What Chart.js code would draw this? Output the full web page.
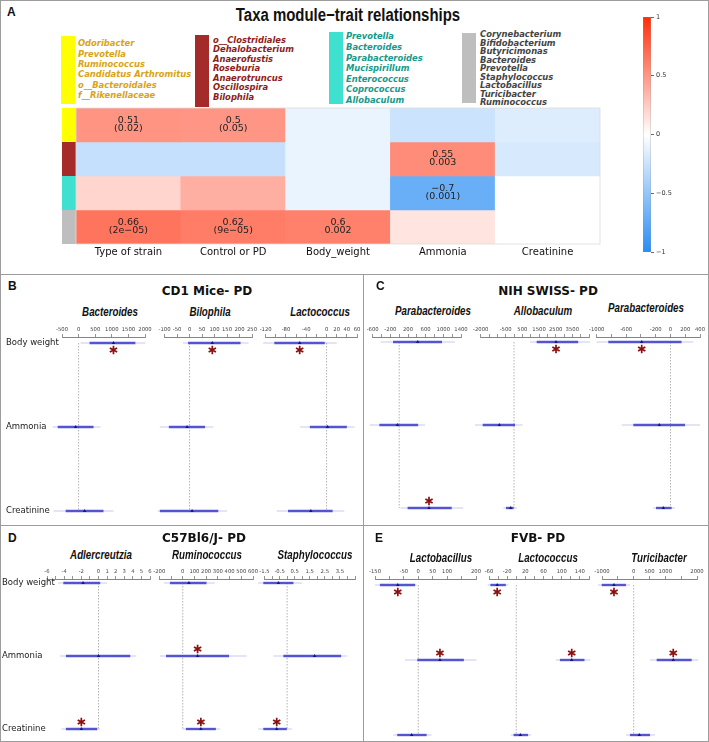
<!DOCTYPE html>
<html>
<head>
<meta charset="utf-8">
<script src="https://cdn.jsdelivr.net/npm/chart.js@4.4.1/dist/chart.umd.min.js"></script>
<style>
  body { margin: 0; background: #fff; }
  #fig { position: relative; width: 709px; height: 742px; overflow: hidden; font-family: "DejaVu Sans", sans-serif; color: #111; }
  .t { position: absolute; white-space: nowrap; line-height: 1; }
  .c { transform: translate(-50%, -50%); }
  .l { transform: translateY(-50%); }
  .n { transform: translate(-50%, -50%) scaleX(0.83); }
  .ns { transform: translate(-50%, -50%) scaleX(0.78); }
  .rule { position: absolute; background: #9c9c9c; }
  .box { position: absolute; }
  canvas { position: absolute; }
  .lab { font: bold 12px "Liberation Sans", Arial, sans-serif; }
  .ptitle { font: bold 12px "DejaVu Sans", sans-serif; }
  .sub { font: italic bold 12.5px "Liberation Sans", Arial, sans-serif; }
  .taxa { position: absolute; font: italic bold 8.4px "DejaVu Sans", sans-serif; white-space: nowrap; }
</style>
</head>
<body>
<div id="fig"></div>
<script>
// ---- panel A: module-trait heatmap ----
const traits = ['Type of strain', 'Control or PD', 'Body_weight', 'Ammonia', 'Creatinine'];
const modules = ['yellow', 'brown', 'turquoise', 'grey'];
const moduleColors = ['#FFFF00', '#A52A2A', '#40E0D0', '#BEBEBE'];
const corrYellow = [0.51, 0.5, -0.1, -0.24, -0.16];
const corrBrown = [-0.27, -0.27, -0.1, 0.55, -0.19];
const corrTurquoise = [0.2, 0.38, -0.1, -0.7, 0];
const corrGrey = [0.66, 0.62, 0.6, 0.13, 0];
const pYellow = ['(0.02)', '(0.05)', '', '', ''];
const pBrown = ['', '', '', '0.003', ''];
const pTurquoise = ['', '', '', '(0.001)', ''];
const pGrey = ['(2e\u221205)', '(9e\u221205)', '0.002', '', ''];
const colorbarTicks = [-1, -0.5, 0, 0.5, 1];

const taxaYellow = ['Odoribacter', 'Prevotella', 'Ruminococcus', 'Candidatus Arthromitus', 'o__Bacteroidales', 'f__Rikenellaceae'];
const taxaBrown = ['o__Clostridiales', 'Dehalobacterium', 'Anaerofustis', 'Roseburia', 'Anaerotruncus', 'Oscillospira', 'Bilophila'];
const taxaTurquoise = ['Prevotella', 'Bacteroides', 'Parabacteroides', 'Mucispirillum', 'Enterococcus', 'Coprococcus', 'Allobaculum'];
const taxaGrey = ['Corynebacterium', 'Bifidobacterium', 'Butyricimonas', 'Bacteroides', 'Prevotella', 'Staphylococcus', 'Lactobacillus', 'Turicibacter', 'Ruminococcus'];

// ---- panels B-E: forest plots ----
const rows = ['Body weight', 'Ammonia', 'Creatinine'];

// B  CD1 Mice- PD
const cd1Taxa = ['Bacteroides', 'Bilophila', 'Lactococcus'];
const cd1BactTicks = [-500, 0, 500, 1000, 1500, 2000];
const cd1BactEst = [1050, -90, 180];
const cd1BactLo = [330, -630, -390];
const cd1BactHi = [1710, 450, 750];
const cd1BactWideLo = [60, -780, -750];
const cd1BactWideHi = [2010, 660, 1050];
const cd1BactSig = [true, false, false];

const cd1BiloTicks = [-100, -50, 0, 50, 100, 150, 200, 250];
const cd1BiloEst = [91, -10, 10];
const cd1BiloLo = [-6, -83, -119];
const cd1BiloHi = [204, 62, 115];
const cd1BiloWideLo = [-26, -119, -127];
const cd1BiloWideHi = [236, 95, 150];
const cd1BiloSig = [true, false, false];

const cd1LactTicks = [-120, -80, -40, 0, 20, 40, 60];
const cd1LactEst = [-53, 2, -31];
const cd1LactLo = [-103, -33, -76];
const cd1LactHi = [-3.5, 40, 12];
const cd1LactWideLo = [-125, -52, -98];
const cd1LactWideHi = [20, 55, 35];
const cd1LactSig = [true, false, false];

// C  NIH SWISS- PD
const nihTaxa = ['Parabacteroides', 'Allobaculum', 'Parabacteroides'];
const nihPara1Ticks = [-600, -200, 200, 600, 1000, 1400];
const nihPara1Est = [420, -40, 675];
const nihPara1Lo = [-140, -450, 190];
const nihPara1Hi = [970, 430, 1190];
const nihPara1WideLo = [-420, -665, 30];
const nihPara1WideHi = [1260, 585, 1450];
const nihPara1Sig = [false, false, true];

const nihAlloTicks = [-2000, -500, 500, 1500, 2500, 3500];
const nihAlloEst = [2520, -880, -200];
const nihAlloLo = [1360, -1880, -480];
const nihAlloHi = [3850, 60, 0];
const nihAlloWideLo = [960, -2340, -640];
const nihAlloWideHi = [4550, 520, 160];
const nihAlloSig = [true, false, false];

const nihPara2Ticks = [-1000, -600, -200, 0, 200, 400];
const nihPara2Est = [-390, -152, -97];
const nihPara2Lo = [-843, -504, -196];
const nihPara2Hi = [150, 197, 16];
const nihPara2WideLo = [-1000, -661, -233];
const nihPara2WideHi = [309, 400, 61];
const nihPara2Sig = [true, false, false];

// D  C57Bl6/J- PD
const c57Taxa = ['Adlercreutzia', 'Ruminococcus', 'Staphylococcus'];
const c57AdleTicks = [-6, -4, -2, 0, 1, 2, 3, 4, 5, 6];
const c57AdleEst = [-1.8, 0, -2];
const c57AdleLo = [-4.1, -3.8, -3.8];
const c57AdleHi = [0.2, 3.7, -0.15];
const c57AdleWideLo = [-4.7, -4.5, -4.3];
const c57AdleWideHi = [1, 4.4, 0.17];
const c57AdleSig = [false, false, true];

const c57RumiTicks = [-200, 0, 100, 200, 300, 400, 500, 600];
const c57RumiEst = [53, 127, 155];
const c57RumiLo = [-109, -143, 27];
const c57RumiHi = [203, 396, 283];
const c57RumiWideLo = [-160, -194, -1];
const c57RumiWideHi = [274, 544, 317];
const c57RumiSig = [false, true, true];

const c57StapTicks = [-1.5, -0.5, 0.5, 1.5, 2.5, 3.5];
const c57StapEst = [-0.58, 1.82, -0.69];
const c57StapLo = [-1.58, -0.25, -1.58];
const c57StapHi = [0.42, 3.58, -0.02];
const c57StapWideLo = [-1.93, -0.91, -1.91];
const c57StapWideHi = [0.98, 3.98, 0.31];
const c57StapSig = [false, false, true];

// E  FVB- PD
const fvbTaxa = ['Lactobacillus', 'Lactococcus', 'Turicibacter'];
const fvbLactbTicks = [-150, -50, 0, 50, 100, 200];
const fvbLactbEst = [-71, 75, -23];
const fvbLactbLo = [-133, -3.5, -73];
const fvbLactbHi = [-11, 158, 29];
const fvbLactbWideLo = [-150, -46, -87];
const fvbLactbWideHi = [-5.5, 202, 46];
const fvbLactbSig = [true, true, false];

const fvbLactcTicks = [-60, -20, 20, 60, 100, 140];
const fvbLactcEst = [-42, 122, 9];
const fvbLactcLo = [-57, 96, -6];
const fvbLactcHi = [-23, 150, 26];
const fvbLactcWideLo = [-63, 87, -12];
const fvbLactcWideHi = [-17, 163, 32];
const fvbLactcSig = [true, true, false];

const fvbTuriTicks = [-1000, 0, 500, 1000, 2000];
const fvbTuriEst = [-622, 1250, 177];
const fvbTuriLo = [-1010, 726, -117];
const fvbTuriHi = [-243, 1831, 515];
const fvbTuriWideLo = [-1130, 515, -243];
const fvbTuriWideHi = [-117, 2040, 672];
const fvbTuriSig = [true, true, false];

// ------------------------------------------------------------
const fig = document.getElementById('fig');

function text(str, x, y, cls, align) {
  const d = document.createElement('div');
  d.className = 't ' + (align || 'c') + ' ' + (cls || '');
  d.textContent = str;
  d.style.left = x + 'px';
  d.style.top = y + 'px';
  fig.appendChild(d);
  return d;
}

function rule(x, y, w, h) {
  const d = document.createElement('div');
  d.className = 'rule';
  d.style.cssText = 'left:' + x + 'px;top:' + y + 'px;width:' + w + 'px;height:' + h + 'px';
  fig.appendChild(d);
}

function mkCanvas(left, top, w, h) {
  const c = document.createElement('canvas');
  c.width = Math.round(w); c.height = Math.round(h);
  c.style.left = left + 'px'; c.style.top = top + 'px';
  fig.appendChild(c);
  return c.getContext('2d');
}

function fmt(v) {
  return v < 0 ? '\u2212' + Math.abs(v) : String(v);
}

function corrColor(v) {
  const t = Math.min(1, Math.abs(v));
  const end = v >= 0 ? [255, 45, 10] : [40, 140, 245];
  return 'rgb(' + end.map(e => Math.round(255 + (e - 255) * t)).join(',') + ')';
}

// frame
rule(0, 0, 709, 1); rule(0, 741, 709, 1); rule(0, 0, 1, 742); rule(708, 0, 1, 742);
rule(0, 274, 709, 1); rule(0, 525, 709, 1); rule(363, 274, 1, 468);

// panel A texts
text('A', 7, 12, 'lab', 'l');
text('Taxa module\u2212trait relationships', 348, 15, '', 'n').style.font = 'bold 18px "Liberation Sans", Arial, sans-serif';

function taxaBlock(list, color, barColor, barX, barTop, barBottom, textX, firstY, lineH) {
  const b = document.createElement('div');
  b.className = 'box';
  b.style.cssText = 'left:' + barX + 'px;top:' + barTop + 'px;width:14px;height:' + (barBottom - barTop) + 'px;background:' + barColor;
  fig.appendChild(b);
  const d = document.createElement('div');
  d.className = 'taxa';
  d.style.cssText += 'left:' + textX + 'px;top:' + (firstY - lineH / 2) + 'px;line-height:' + lineH + 'px;color:' + color;
  d.innerHTML = list.join('<br>');
  fig.appendChild(d);
}
taxaBlock(taxaYellow, '#D9A414', moduleColors[0], 61, 36, 104, 78, 43.5, 10.3);
taxaBlock(taxaBrown, '#8E1B1B', moduleColors[1], 195, 35, 107, 213, 40.3, 9.6);
taxaBlock(taxaTurquoise, '#16998A', moduleColors[2], 329, 32, 104, 346, 36.7, 10.6);
taxaBlock(taxaGrey, '#444444', moduleColors[3], 462, 33, 103, 480, 34.7, 8.45);

const heatCorr = [corrYellow, corrBrown, corrTurquoise, corrGrey];
const heatP = [pYellow, pBrown, pTurquoise, pGrey];

const heatDecor = {
  id: 'heatDecor',
  afterDatasetsDraw(chart) {
    const c = chart.ctx, a = chart.chartArea;
    c.save();
    chart.data.datasets.forEach((ds, i) => {
      const els = chart.getDatasetMeta(i).data;
      const top = Math.min(els[0].y, els[0].base), h = Math.abs(els[0].base - els[0].y);
      c.fillStyle = moduleColors[i];
      c.fillRect(a.left - 14, top, 14, h);
      c.fillStyle = '#222';
      c.font = '9.5px "DejaVu Sans"';
      c.textAlign = 'center';
      c.textBaseline = 'middle';
      els.forEach((el, j) => {
        if (!heatP[i][j]) return;
        const cy = (el.y + el.base) / 2;
        c.fillText(fmt(heatCorr[i][j]), el.x, cy - 4.2);
        c.fillText(heatP[i][j], el.x, cy + 4);
      });
    });
    c.strokeStyle = '#dcdcdc';
    c.lineWidth = 0.8;
    c.strokeRect(a.left, a.top, a.right - a.left, a.bottom - a.top);
    c.restore();
  }
};

new Chart(mkCanvas(50, 100, 560, 168), {
  type: 'bar',
  data: {
    labels: traits,
    datasets: heatCorr.map((row, i) => ({
      label: modules[i],
      data: traits.map(() => 1),
      backgroundColor: row.map(corrColor),
      borderWidth: 0,
      barPercentage: 1,
      categoryPercentage: 1
    }))
  },
  options: {
    responsive: false,
    animation: false,
    layout: { padding: { left: 26, right: 10, top: 8, bottom: 0 } },
    plugins: { legend: { display: false }, tooltip: { enabled: false } },
    scales: {
      x: {
        stacked: true,
        grid: { display: false, drawTicks: false },
        border: { display: false },
        ticks: { font: { family: 'DejaVu Sans', size: 10 }, color: '#111', padding: 2, maxRotation: 0 },
        afterFit: s => { s.height = 24; }
      },
      y: { stacked: true, display: false, min: 0, max: 4, reverse: true }
    }
  },
  plugins: [heatDecor]
});

// colour bar
new Chart(mkCanvas(630, 10, 50, 250), {
  type: 'bar',
  data: {
    labels: [''],
    datasets: [{
      data: [[colorbarTicks[0], colorbarTicks[colorbarTicks.length - 1]]],
      backgroundColor: ctx => {
        const ch = ctx.chart, a = ch.chartArea;
        if (!a) return '#fff';
        const g = ch.ctx.createLinearGradient(0, a.bottom, 0, a.top);
        for (let k = 0; k <= 20; k++) g.addColorStop(k / 20, corrColor(-1 + k / 10));
        return g;
      },
      borderColor: '#8a8a8a',
      borderWidth: 0.6,
      borderSkipped: false,
      barPercentage: 1,
      categoryPercentage: 1
    }]
  },
  options: {
    responsive: false,
    animation: false,
    layout: { padding: { left: 13, right: 0, top: 7, bottom: 8 } },
    plugins: { legend: { display: false }, tooltip: { enabled: false } },
    scales: {
      x: { display: false },
      y: {
        position: 'right', min: -1, max: 1,
        afterBuildTicks: s => { s.ticks = colorbarTicks.map(v => ({ value: v })); },
        ticks: { font: { family: 'DejaVu Sans', size: 6.5 }, color: '#333', padding: 2, callback: v => fmt(v) },
        grid: { drawOnChartArea: false, tickLength: 3, color: '#666' },
        border: { display: false },
        afterFit: s => { s.width = 29; }
      }
    }
  }
});

// ---- forest plots ----
const stars = {
  id: 'stars',
  afterDatasetsDraw(chart, args, opts) {
    const c = chart.ctx, xs = chart.scales.x, ys = chart.scales.y;
    c.save();
    c.strokeStyle = '#8B1010';
    c.lineWidth = 1.7;
    opts.sig.forEach((s, i) => {
      if (!s) return;
      const x = xs.getPixelForValue(opts.est[i]);
      const y = ys.getPixelForValue(i) + (i === 0 ? 7 : -7);
      const r = 4.2;
      c.beginPath();
      [90, 30, 150].forEach(deg => {
        const rad = deg * Math.PI / 180;
        c.moveTo(x - r * Math.cos(rad), y - r * Math.sin(rad));
        c.lineTo(x + r * Math.cos(rad), y + r * Math.sin(rad));
      });
      c.stroke();
    });
    c.restore();
  }
};

const rowLabels = {
  id: 'rowLabels',
  afterDraw(chart, args, opts) {
    if (opts.left == null) return;
    const c = chart.ctx, ys = chart.scales.y;
    c.save();
    c.font = '8.5px "DejaVu Sans"';
    c.fillStyle = '#222';
    c.textAlign = 'left';
    c.textBaseline = 'middle';
    rows.forEach((r, i) => c.fillText(r, opts.left, ys.getPixelForValue(i)));
    c.restore();
  }
};

function forest(p) {
  const axisH = 16, padR = 14;
  const withLabels = p.labelLeft != null;
  const canvasLeft = withLabels ? 0 : Math.round(p.x0 - 14);
  const padL = p.x0 - canvasLeft;
  const yMin = -(p.row0 - p.axisY) / p.gap;
  const yMax = rows.length - 1 + 12 / p.gap;
  const areaH = (yMax - yMin) * p.gap;
  const w = p.x1 - canvasLeft + padR;
  const ctx = mkCanvas(canvasLeft, p.axisY - axisH, w, axisH + areaH + 4);
  const shown = p.ticks;
  new Chart(ctx, {
    type: 'bar',
    data: {
      datasets: [
        { type: 'line', data: rows.map((r, i) => ({ x: 0, y: i })), borderColor: '#a0a0a0', borderWidth: 0.8,
          borderDash: [1.5, 1.5], pointRadius: 0, order: 4, clip: false },
        { data: rows.map((r, i) => ({ y: i, x: [p.wlo[i], p.whi[i]] })), backgroundColor: 'rgba(150,150,230,0.35)',
          maxBarThickness: 1.5, grouped: false, order: 3, clip: false },
        { data: rows.map((r, i) => ({ y: i, x: [p.lo[i], p.hi[i]] })), backgroundColor: 'rgba(60,60,205,0.85)',
          maxBarThickness: 2.4, grouped: false, order: 2, clip: false },
        { type: 'line', data: rows.map((r, i) => ({ x: p.est[i], y: i })), showLine: false, pointStyle: 'triangle',
          pointRadius: 2, backgroundColor: '#15157a', borderColor: '#15157a', borderWidth: 0, order: 1, clip: false }
      ]
    },
    options: {
      indexAxis: 'y',
      responsive: false,
      animation: false,
      layout: { padding: { left: padL, right: padR, top: 0, bottom: 4 } },
      plugins: {
        legend: { display: false }, tooltip: { enabled: false },
        stars: { sig: p.sig, est: p.est },
        rowLabels: { left: p.labelLeft }
      },
      scales: {
        x: {
          type: 'linear', position: 'top', min: p.min, max: p.max,
          ticks: {
            stepSize: p.step, autoSkip: false, maxRotation: 0, padding: 1,
            font: { family: 'DejaVu Sans', size: 5.3 }, color: '#444',
            callback: v => shown.some(s => Math.abs(s - v) < 1e-9) ? (v < 0 ? '-' + Math.abs(v) : String(v)) : ''
          },
          grid: { drawOnChartArea: false, drawTicks: true, tickLength: 3, color: '#666', lineWidth: 0.7 },
          border: { display: true, color: '#666', width: 0.8 },
          afterFit: s => { s.height = axisH; }
        },
        y: { type: 'linear', min: yMin, max: yMax, reverse: true, offset: false, display: false }
      }
    },
    plugins: [stars, rowLabels]
  });
}

const panelB = { axisY: 337, row0: 343, gap: 84 };
const panelC = { axisY: 337, row0: 342, gap: 83 };
const panelD = { axisY: 579, row0: 583, gap: 73 };
const panelE = { axisY: 579, row0: 585, gap: 75 };

// B
text('B', 8, 286, 'lab', 'l');
text('CD1 Mice- PD', 207, 291, 'ptitle');
[110, 210, 320].forEach((x, i) => text(cd1Taxa[i], x, 312, 'sub', 'ns'));
forest({ ...panelB, labelLeft: 6, x0: 62, x1: 145, min: -500, max: 2000, step: 500, ticks: cd1BactTicks,
  est: cd1BactEst, lo: cd1BactLo, hi: cd1BactHi, wlo: cd1BactWideLo, whi: cd1BactWideHi, sig: cd1BactSig });
forest({ ...panelB, x0: 164.6, x1: 251.5, min: -100, max: 250, step: 50, ticks: cd1BiloTicks,
  est: cd1BiloEst, lo: cd1BiloLo, hi: cd1BiloHi, wlo: cd1BiloWideLo, whi: cd1BiloWideHi, sig: cd1BiloSig });
forest({ ...panelB, x0: 265.7, x1: 357.3, min: -120, max: 60, step: 20, ticks: cd1LactTicks,
  est: cd1LactEst, lo: cd1LactLo, hi: cd1LactHi, wlo: cd1LactWideLo, whi: cd1LactWideHi, sig: cd1LactSig });

// C
text('C', 376, 286, 'lab', 'l');
text('NIH SWISS- PD', 548, 291, 'ptitle');
[[433, 311], [543, 311], [646, 308]].forEach((xy, i) => text(nihTaxa[i], xy[0], xy[1], 'sub', 'ns'));
forest({ ...panelC, x0: 372.7, x1: 461, min: -600, max: 1400, step: 200, ticks: nihPara1Ticks,
  est: nihPara1Est, lo: nihPara1Lo, hi: nihPara1Hi, wlo: nihPara1WideLo, whi: nihPara1WideHi, sig: nihPara1Sig });
forest({ ...panelC, x0: 480.7, x1: 589.3, min: -2000, max: 4500, step: 500, ticks: nihAlloTicks,
  est: nihAlloEst, lo: nihAlloLo, hi: nihAlloHi, wlo: nihAlloWideLo, whi: nihAlloWideHi, sig: nihAlloSig });
forest({ ...panelC, x0: 596.7, x1: 700, min: -1000, max: 400, step: 200, ticks: nihPara2Ticks,
  est: nihPara2Est, lo: nihPara2Lo, hi: nihPara2Hi, wlo: nihPara2WideLo, whi: nihPara2WideHi, sig: nihPara2Sig });

// D
text('D', 8, 538, 'lab', 'l');
text('C57Bl6/J- PD', 204, 538, 'ptitle');
[101, 207, 315].forEach((x, i) => text(c57Taxa[i], x, 555, 'sub', 'ns'));
forest({ ...panelD, labelLeft: 2, x0: 47, x1: 150, min: -6, max: 6, step: 1, ticks: c57AdleTicks,
  est: c57AdleEst, lo: c57AdleLo, hi: c57AdleHi, wlo: c57AdleWideLo, whi: c57AdleWideHi, sig: c57AdleSig });
forest({ ...panelD, x0: 159.3, x1: 253.3, min: -200, max: 600, step: 100, ticks: c57RumiTicks,
  est: c57RumiEst, lo: c57RumiLo, hi: c57RumiHi, wlo: c57RumiWideLo, whi: c57RumiWideHi, sig: c57RumiSig });
forest({ ...panelD, x0: 264.5, x1: 354.5, min: -1.5, max: 4.5, step: 0.5, ticks: c57StapTicks,
  est: c57StapEst, lo: c57StapLo, hi: c57StapHi, wlo: c57StapWideLo, whi: c57StapWideHi, sig: c57StapSig });

// E
text('E', 375, 538, 'lab', 'l');
text('FVB- PD', 538, 538, 'ptitle');
[441, 548, 659].forEach((x, i) => text(fvbTaxa[i], x, 558, 'sub', 'ns'));
forest({ ...panelE, x0: 375, x1: 476, min: -150, max: 200, step: 50, ticks: fvbLactbTicks,
  est: fvbLactbEst, lo: fvbLactbLo, hi: fvbLactbHi, wlo: fvbLactbWideLo, whi: fvbLactbWideHi, sig: fvbLactbSig });
forest({ ...panelE, x0: 489, x1: 589, min: -60, max: 160, step: 20, ticks: fvbLactcTicks,
  est: fvbLactcEst, lo: fvbLactcLo, hi: fvbLactcHi, wlo: fvbLactcWideLo, whi: fvbLactcWideHi, sig: fvbLactcSig });
forest({ ...panelE, x0: 602, x1: 697, min: -1000, max: 2000, step: 500, ticks: fvbTuriTicks,
  est: fvbTuriEst, lo: fvbTuriLo, hi: fvbTuriHi, wlo: fvbTuriWideLo, whi: fvbTuriWideHi, sig: fvbTuriSig });
</script>
</body>
</html>
